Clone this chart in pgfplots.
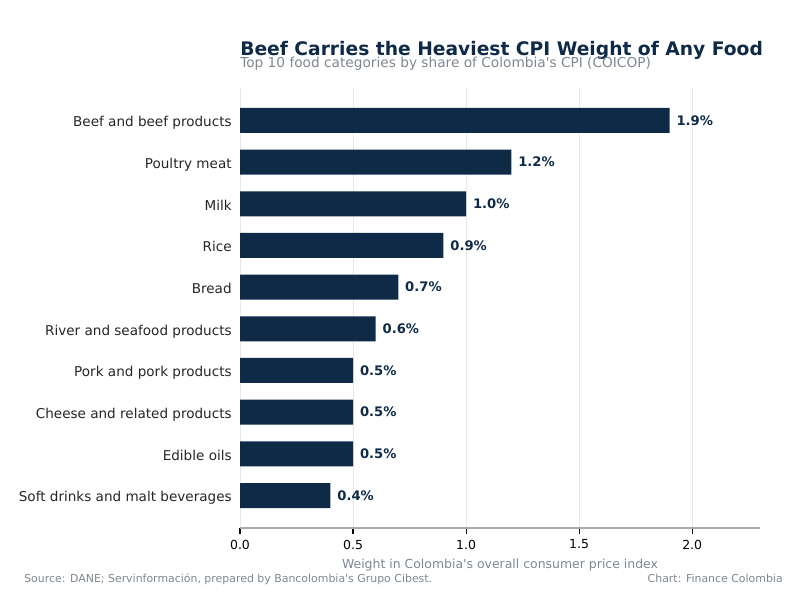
\documentclass[border=0pt]{standalone}
\usepackage{pgfplots}
\pgfplotsset{compat=1.18}
\usepackage{fontspec}
\setmainfont{DejaVu Sans}
\definecolor{navy}{HTML}{0E2A47}
\definecolor{subgray}{HTML}{7F8790}
\definecolor{gridc}{HTML}{E8E8E8}
\definecolor{spinec}{HTML}{AAAAAA}
\begin{document}
\begin{tikzpicture}
\path[use as bounding box] (0,0) rectangle (8in,5.95in);
\begin{axis}[
  at={(2.4in,0.67in)}, anchor=south west,
  scale only axis, width=5.2in, height=4.4in,
  xbar, bar width=0.6, bar shift=0pt,
  xmin=0, xmax=2.3,
  ymin=-0.78, ymax=9.78, y dir=reverse,
  ytick={0,...,9},
  yticklabels={Beef and beef products,Poultry meat,Milk,Rice,Bread,River and seafood products,Pork and pork products,Cheese and related products,Edible oils,Soft drinks and malt beverages},
  yticklabel style={font=\fontsize{9.8}{12}\selectfont, text=black!85, anchor=mid east, xshift=1.5pt, yshift=-1.8pt},
  xtick={0,0.5,1,1.5,2},
  xticklabel style={font=\fontsize{9}{11}\selectfont, yshift=-1pt, /pgf/number format/fixed, /pgf/number format/fixed zerofill, /pgf/number format/precision=1},
  /pgf/number format/assume math mode=true,
  xmajorgrids, major grid style={gridc, line width=0.6pt},
  axis x line*=bottom, axis y line*=left,
  x axis line style={spinec, line width=0.8pt, -},
  y axis line style={draw=none},
  major tick length=4pt,
  xtick style={black, line width=0.8pt},
  ytick style={draw=none},
  tick align=outside,
  xlabel={Weight in Colombia\textquotesingle s overall consumer price index},
  xlabel style={font=\fontsize{9}{11}\selectfont, text=subgray, yshift=-0.5pt},
  nodes near coords={\textbf{\pgfmathprintnumber[fixed,fixed zerofill,precision=1]{\pgfplotspointmeta}\%}},
  nodes near coords style={font=\fontsize{9.5}{11}\selectfont, text=navy, anchor=west, xshift=1.5pt},
  point meta=x,
  clip=false,
]
\addplot[fill=navy, draw=none] coordinates {
(1.9,0) (1.2,1) (1.0,2) (0.9,3) (0.7,4) (0.6,5) (0.5,6) (0.5,7) (0.5,8) (0.4,9)};
\end{axis}
\node[anchor=base west, inner sep=0, text=navy, font=\fontsize{13.5}{16}\selectfont\bfseries] at (2.4in,5.39in) {Beef Carries the Heaviest CPI Weight of Any Food};
\node[anchor=base west, inner sep=0, text=subgray, font=\fontsize{9.9}{12}\selectfont] at (2.4in,5.27in) {Top 10 food categories by share of Colombia\textquotesingle s CPI (COICOP)};
\node[anchor=base west, inner sep=0, text=subgray, font=\fontsize{7.9}{10}\selectfont] at (0.24in,0.13in) {Source: DANE; Servinformación, prepared by Bancolombia\textquotesingle s Grupo Cibest.};
\node[anchor=base east, inner sep=0, text=subgray, font=\fontsize{7.9}{10}\selectfont] at (7.83in,0.13in) {Chart: Finance Colombia};
\end{tikzpicture}
\end{document}
